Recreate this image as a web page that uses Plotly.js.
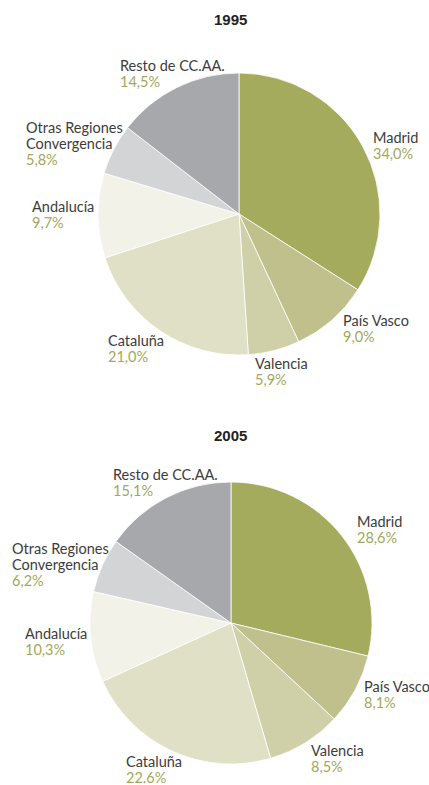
<!DOCTYPE html>
<html><head><meta charset="utf-8">
<script src="https://cdn.plot.ly/plotly-3.0.1.min.js"></script>
<style>html,body{margin:0;padding:0;background:#fff}#chart{width:429px;height:785px}</style>
</head><body><div id="chart"></div>
<script>
// ---- data ----
const regions = ["Madrid", "País Vasco", "Valencia", "Cataluña", "Andalucía", "Otras Regiones\nConvergencia", "Resto de CC.AA."];
const values1995 = [34.0, 9.0, 5.9, 21.0, 9.7, 5.8, 14.5];
const values2005 = [28.6, 8.1, 8.5, 22.6, 10.3, 6.2, 15.1];
const pctText1995 = ["34,0%", "9,0%", "5,9%", "21,0%", "9,7%", "5,8%", "14,5%"];
const pctText2005 = ["28,6%", "8,1%", "8,5%", "22.6%", "10,3%", "6,2%", "15,1%"];
const years = ["1995", "2005"];

// ---- style / layout ----
const colors = ["#a5ab5d", "#bfc08b", "#cfd0a8", "#e0e0c6", "#f3f2e8", "#d3d4d6", "#a7a8ac"];
const W = 429, H = 785;
const pies = [
  {cx: 239, cy: 214, r: 141, titleX: 230, titleY: 20},
  {cx: 231, cy: 623, r: 141, titleX: 230, titleY: 435}
];
// label block placement: [left edge px, first line centre px]
const labelPos = [
  [[372, 137.5], [342, 320.5], [254, 363], [107, 340.5], [31, 207], [25, 128], [119, 65.5]],
  [[356, 521], [363, 686], [310, 750], [125, 761], [24, 633], [11, 548], [112, 474.7]]
];
const lineStep = 16;
const nameFont = {family: "Lato, sans-serif", size: 14.5, color: "#3c3c3c"};
const pctFont = {family: "Lato, sans-serif", size: 14.5, color: "#a2a85c"};

const allValues = [values1995, values2005];
const allPct = [pctText1995, pctText2005];

const px = x => x / W;
const py = y => 1 - y / H;

const traces = [];
const annotations = [];
pies.forEach((p, k) => {
  traces.push({
    type: "pie",
    labels: regions,
    values: allValues[k],
    sort: false,
    direction: "clockwise",
    rotation: 0,
    textinfo: "none",
    hoverinfo: "none",
    marker: {colors: colors, line: {color: "#ffffff", width: 0.8}},
    domain: {x: [px(p.cx - p.r), px(p.cx + p.r)], y: [py(p.cy + p.r), py(p.cy - p.r)]},
    showlegend: false
  });
  annotations.push({
    text: "<b>" + years[k] + "</b>", x: px(p.titleX), y: py(p.titleY),
    xref: "paper", yref: "paper", showarrow: false, xanchor: "center", yanchor: "middle",
    font: {family: "Liberation Sans, Arial, sans-serif", size: 15, color: "#222222"}
  });
  regions.forEach((name, i) => {
    const [lx, ly] = labelPos[k][i];
    const lines = name.split("\n");
    lines.forEach((ln, j) => {
      annotations.push({
        text: ln, x: px(lx), y: py(ly + j * lineStep), xref: "paper", yref: "paper",
        showarrow: false, xanchor: "left", yanchor: "middle", align: "left",
        borderpad: 0, font: nameFont
      });
    });
    annotations.push({
      text: allPct[k][i], x: px(lx), y: py(ly + lines.length * lineStep), xref: "paper", yref: "paper",
      showarrow: false, xanchor: "left", yanchor: "middle", align: "left",
      borderpad: 0, font: pctFont
    });
  });
});

Plotly.newPlot("chart", traces, {
  width: W, height: H,
  margin: {l: 0, r: 0, t: 0, b: 0},
  paper_bgcolor: "#ffffff", plot_bgcolor: "#ffffff",
  annotations: annotations
}, {staticPlot: true, displayModeBar: false});
</script>
</body></html>
